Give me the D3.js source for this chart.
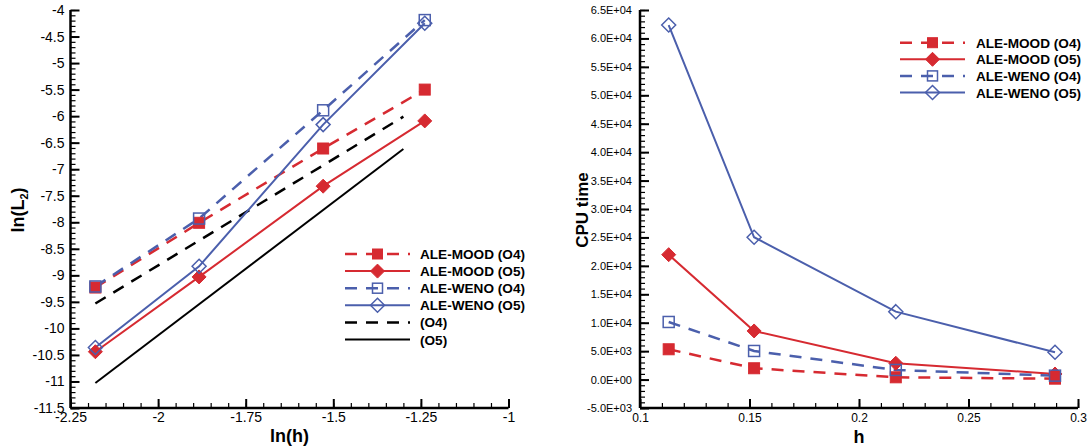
<!DOCTYPE html>
<html>
<head>
<meta charset="utf-8">
<script src="https://cdn.jsdelivr.net/npm/d3@7/dist/d3.min.js"></script>
<style>
  html, body { margin: 0; padding: 0; background: #fff; }
  svg { display: block; font-family: "Liberation Sans", Arial, Helvetica, sans-serif; }
</style>
</head>
<body>
<svg id="chart" width="1089" height="448"></svg>
<script>
// Mesh sizes and their logarithms
const h   = [0.1131, 0.1521, 0.2168, 0.2895];
const lnh = [-2.179, -1.883, -1.529, -1.239];

// ln(L2) error per scheme
const errMoodO4 = [-9.23, -8.01, -6.61, -5.50];
const errMoodO5 = [-10.44, -9.03, -7.32, -6.09];
const errWenoO4 = [-9.21, -7.93, -5.89, -4.19];
const errWenoO5 = [-10.36, -8.83, -6.16, -4.25];

// Reference slopes (order 4 and order 5)
const refX  = [-2.179, -1.30];
const refO4 = [-9.53, -6.01];
const refO5 = [-11.03, -6.62];

// CPU time per scheme
const cpuMoodO4 = [5330, 1990, 400, 160];
const cpuMoodO5 = [21970, 8550, 2870, 980];
const cpuWenoO4 = [10130, 5030, 1690, 690];
const cpuWenoO5 = [62360, 25030, 11940, 4800];

// Tick values
const lnhTicks = [-2.25, -2, -1.75, -1.5, -1.25, -1];
const errTicks = [-4, -4.5, -5, -5.5, -6, -6.5, -7, -7.5, -8, -8.5, -9, -9.5, -10, -10.5, -11, -11.5];
const hTicks   = [0.1, 0.15, 0.2, 0.25, 0.3];
const cpuTicks = [65000, 60000, 55000, 50000, 45000, 40000, 35000, 30000, 25000, 20000, 15000, 10000, 5000, 0, -5000];

const seriesNames = ["ALE-MOOD (O4)", "ALE-MOOD (O5)", "ALE-WENO (O4)", "ALE-WENO (O5)"];
const refNames = ["(O4)", "(O5)"];

const RED = "#d62a31", BLUE = "#4b5fac";
const DASH = "12,9";
const styles = [
  { color: RED,  dash: DASH, marker: "square",  fill: true  },
  { color: RED,  dash: null, marker: "diamond", fill: true  },
  { color: BLUE, dash: DASH, marker: "square",  fill: false },
  { color: BLUE, dash: null, marker: "diamond", fill: false }
];

const svg = d3.select("#chart");

function drawMarker(g, type, fill, color, x, y, s) {
  if (type === "square") {
    g.append("rect")
      .attr("x", x - s / 2).attr("y", y - s / 2)
      .attr("width", s).attr("height", s)
      .attr("fill", fill ? color : "none")
      .attr("stroke", color).attr("stroke-width", fill ? 1 : 1.5);
  } else {
    const r = s / 2;
    g.append("path")
      .attr("d", `M${x},${y - r}L${x + r},${y}L${x},${y + r}L${x - r},${y}Z`)
      .attr("fill", fill ? color : "none")
      .attr("stroke", color).attr("stroke-width", fill ? 1 : 1.5);
  }
}

function axes(g, x, y, xMinor, yMinor, xFmt, yFmt, xPad, yPad, xFont, yFont) {
  const [x0] = x.range();
  const [y0] = y.range();
  // minor ticks
  g.append("g").attr("transform", `translate(0,${y0})`)
    .call(d3.axisBottom(x).tickValues(xMinor).tickSize(-5).tickFormat(""))
    .call(a => a.select(".domain").remove())
    .call(a => a.selectAll("line").attr("stroke-width", 1.2));
  g.append("g").attr("transform", `translate(${x0},0)`)
    .call(d3.axisLeft(y).tickValues(yMinor).tickSize(-5).tickFormat(""))
    .call(a => a.select(".domain").remove())
    .call(a => a.selectAll("line").attr("stroke-width", 1.2));
  // major ticks with labels
  const xa = g.append("g").attr("transform", `translate(0,${y0})`)
    .call(d3.axisBottom(x).tickValues(x.ticksList).tickSize(-9).tickPadding(xPad).tickFormat(xFmt));
  xa.select(".domain").attr("stroke-width", 2.5).attr("d", `M${x.range()[0]},0H${x.range()[1]}`);
  xa.selectAll("line").attr("stroke-width", 2);
  xa.selectAll("text").attr("font-size", xFont).attr("fill", "#000");
  const ya = g.append("g").attr("transform", `translate(${x0},0)`)
    .call(d3.axisLeft(y).tickValues(y.ticksList).tickSize(-9).tickPadding(yPad).tickFormat(yFmt));
  ya.select(".domain").attr("stroke-width", 2.5).attr("d", `M0,${y.range()[0]}V${y.range()[1]}`);
  ya.selectAll("line").attr("stroke-width", 2);
  ya.selectAll("text").attr("font-size", yFont).attr("fill", "#000");
}

function range(a, b, step) {
  const out = [];
  const n = Math.round((b - a) / step);
  for (let i = 0; i <= n; i++) out.push(+(a + i * step).toFixed(6));
  return out;
}

// ---------- Left panel: ln(L2) vs ln(h) ----------
const xL = d3.scaleLinear().domain([-2.25, -1]).range([70.5, 508.5]);
const yL = d3.scaleLinear().domain([-11.5, -4]).range([408, 10]);
xL.ticksList = lnhTicks;
yL.ticksList = errTicks;
const gL = svg.append("g");
axes(gL, xL, yL, range(-2.25, -1, 0.05), range(-11.5, -4, 0.1),
  d => String(d), d => String(d), 4, 6, 14, 14);

const lineL = d3.line().x(d => xL(d[0])).y(d => yL(d[1]));

// reference slopes
gL.append("path").datum(d3.zip(refX, refO4)).attr("d", lineL)
  .attr("fill", "none").attr("stroke", "#000").attr("stroke-width", 2.5).attr("stroke-dasharray", DASH);
gL.append("path").datum(d3.zip(refX, refO5)).attr("d", lineL)
  .attr("fill", "none").attr("stroke", "#000").attr("stroke-width", 2);

const errSeries = [errMoodO4, errMoodO5, errWenoO4, errWenoO5];
errSeries.forEach((vals, i) => {
  const st = styles[i];
  gL.append("path").datum(d3.zip(lnh, vals)).attr("d", lineL)
    .attr("fill", "none").attr("stroke", st.color).attr("stroke-width", st.dash ? 2.5 : 2)
    .attr("stroke-dasharray", st.dash);
});
errSeries.forEach((vals, i) => {
  const st = styles[i];
  vals.forEach((v, j) => drawMarker(gL, st.marker, st.fill, st.color, xL(lnh[j]), yL(v), st.marker === "square" ? 11 : 14));
});

// axis titles
gL.append("text").attr("x", xL(-1.625)).attr("y", 442).attr("text-anchor", "middle")
  .attr("font-size", 18).attr("font-weight", "bold").text("ln(h)");
const yTitle = gL.append("text").attr("transform", "translate(24,210) rotate(-90)")
  .attr("text-anchor", "middle").attr("font-size", 18).attr("font-weight", "bold");
yTitle.append("tspan").text("ln(L");
yTitle.append("tspan").attr("font-size", 11).attr("dy", 4).text("2");
yTitle.append("tspan").attr("dy", -4).text(")");

// legend
const legL = gL.append("g");
const legLItems = seriesNames.map((n, i) => ({ name: n, st: styles[i] }))
  .concat([{ name: refNames[0], st: { color: "#000", dash: DASH, marker: null } },
           { name: refNames[1], st: { color: "#000", dash: null, marker: null } }]);
legLItems.forEach((it, i) => {
  const y = 254 + i * 17.1;
  legL.append("line").attr("x1", 345).attr("x2", 410).attr("y1", y).attr("y2", y)
    .attr("stroke", it.st.color).attr("stroke-width", it.st.dash ? 2.5 : 2)
    .attr("stroke-dasharray", it.st.dash);
  if (it.st.marker) drawMarker(legL, it.st.marker, it.st.fill, it.st.color, 377.5, y, it.st.marker === "square" ? 10 : 14);
  legL.append("text").attr("x", 420).attr("y", y + 5).attr("font-size", 13.6)
    .attr("font-weight", "bold").text(it.name);
});

// ---------- Right panel: CPU time vs h ----------
const xR = d3.scaleLinear().domain([0.1, 0.3]).range([640, 1078]);
const yR = d3.scaleLinear().domain([-5000, 65000]).range([408, 10]);
xR.ticksList = hTicks;
yR.ticksList = cpuTicks;
const sciFmt = v => {
  const s = v.toExponential(1);
  const [m, e] = s.split("e");
  const ei = parseInt(e, 10);
  return m + "E" + (ei < 0 ? "-" : "+") + String(Math.abs(ei)).padStart(2, "0");
};
const gR = svg.append("g");
axes(gR, xR, yR, range(0.1, 0.3, 0.01), range(-5000, 65000, 1000),
  d => String(d), sciFmt, 5, 8, 12, 11);

const lineR = d3.line().x(d => xR(d[0])).y(d => yR(d[1]));
const cpuSeries = [cpuMoodO4, cpuMoodO5, cpuWenoO4, cpuWenoO5];
cpuSeries.forEach((vals, i) => {
  const st = styles[i];
  gR.append("path").datum(d3.zip(h, vals)).attr("d", lineR)
    .attr("fill", "none").attr("stroke", st.color).attr("stroke-width", st.dash ? 2.5 : 2)
    .attr("stroke-dasharray", st.dash);
});
cpuSeries.forEach((vals, i) => {
  const st = styles[i];
  vals.forEach((v, j) => drawMarker(gR, st.marker, st.fill, st.color, xR(h[j]), yR(v), st.marker === "square" ? 11 : 14));
});

gR.append("text").attr("x", xR(0.2) + 0).attr("y", 443).attr("text-anchor", "middle")
  .attr("font-size", 18).attr("font-weight", "bold").text("h");
gR.append("text").attr("transform", "translate(588,210) rotate(-90)")
  .attr("text-anchor", "middle").attr("font-size", 17).attr("font-weight", "bold").text("CPU time");

const legR = gR.append("g");
seriesNames.forEach((n, i) => {
  const st = styles[i];
  const y = 42.7 + i * 16.6;
  legR.append("line").attr("x1", 900).attr("x2", 965).attr("y1", y).attr("y2", y)
    .attr("stroke", st.color).attr("stroke-width", st.dash ? 2.5 : 2).attr("stroke-dasharray", st.dash);
  drawMarker(legR, st.marker, st.fill, st.color, 932.5, y, st.marker === "square" ? 10 : 14);
  legR.append("text").attr("x", 976).attr("y", y + 5).attr("font-size", 13.6)
    .attr("font-weight", "bold").text(n);
});
</script>
</body>
</html>
